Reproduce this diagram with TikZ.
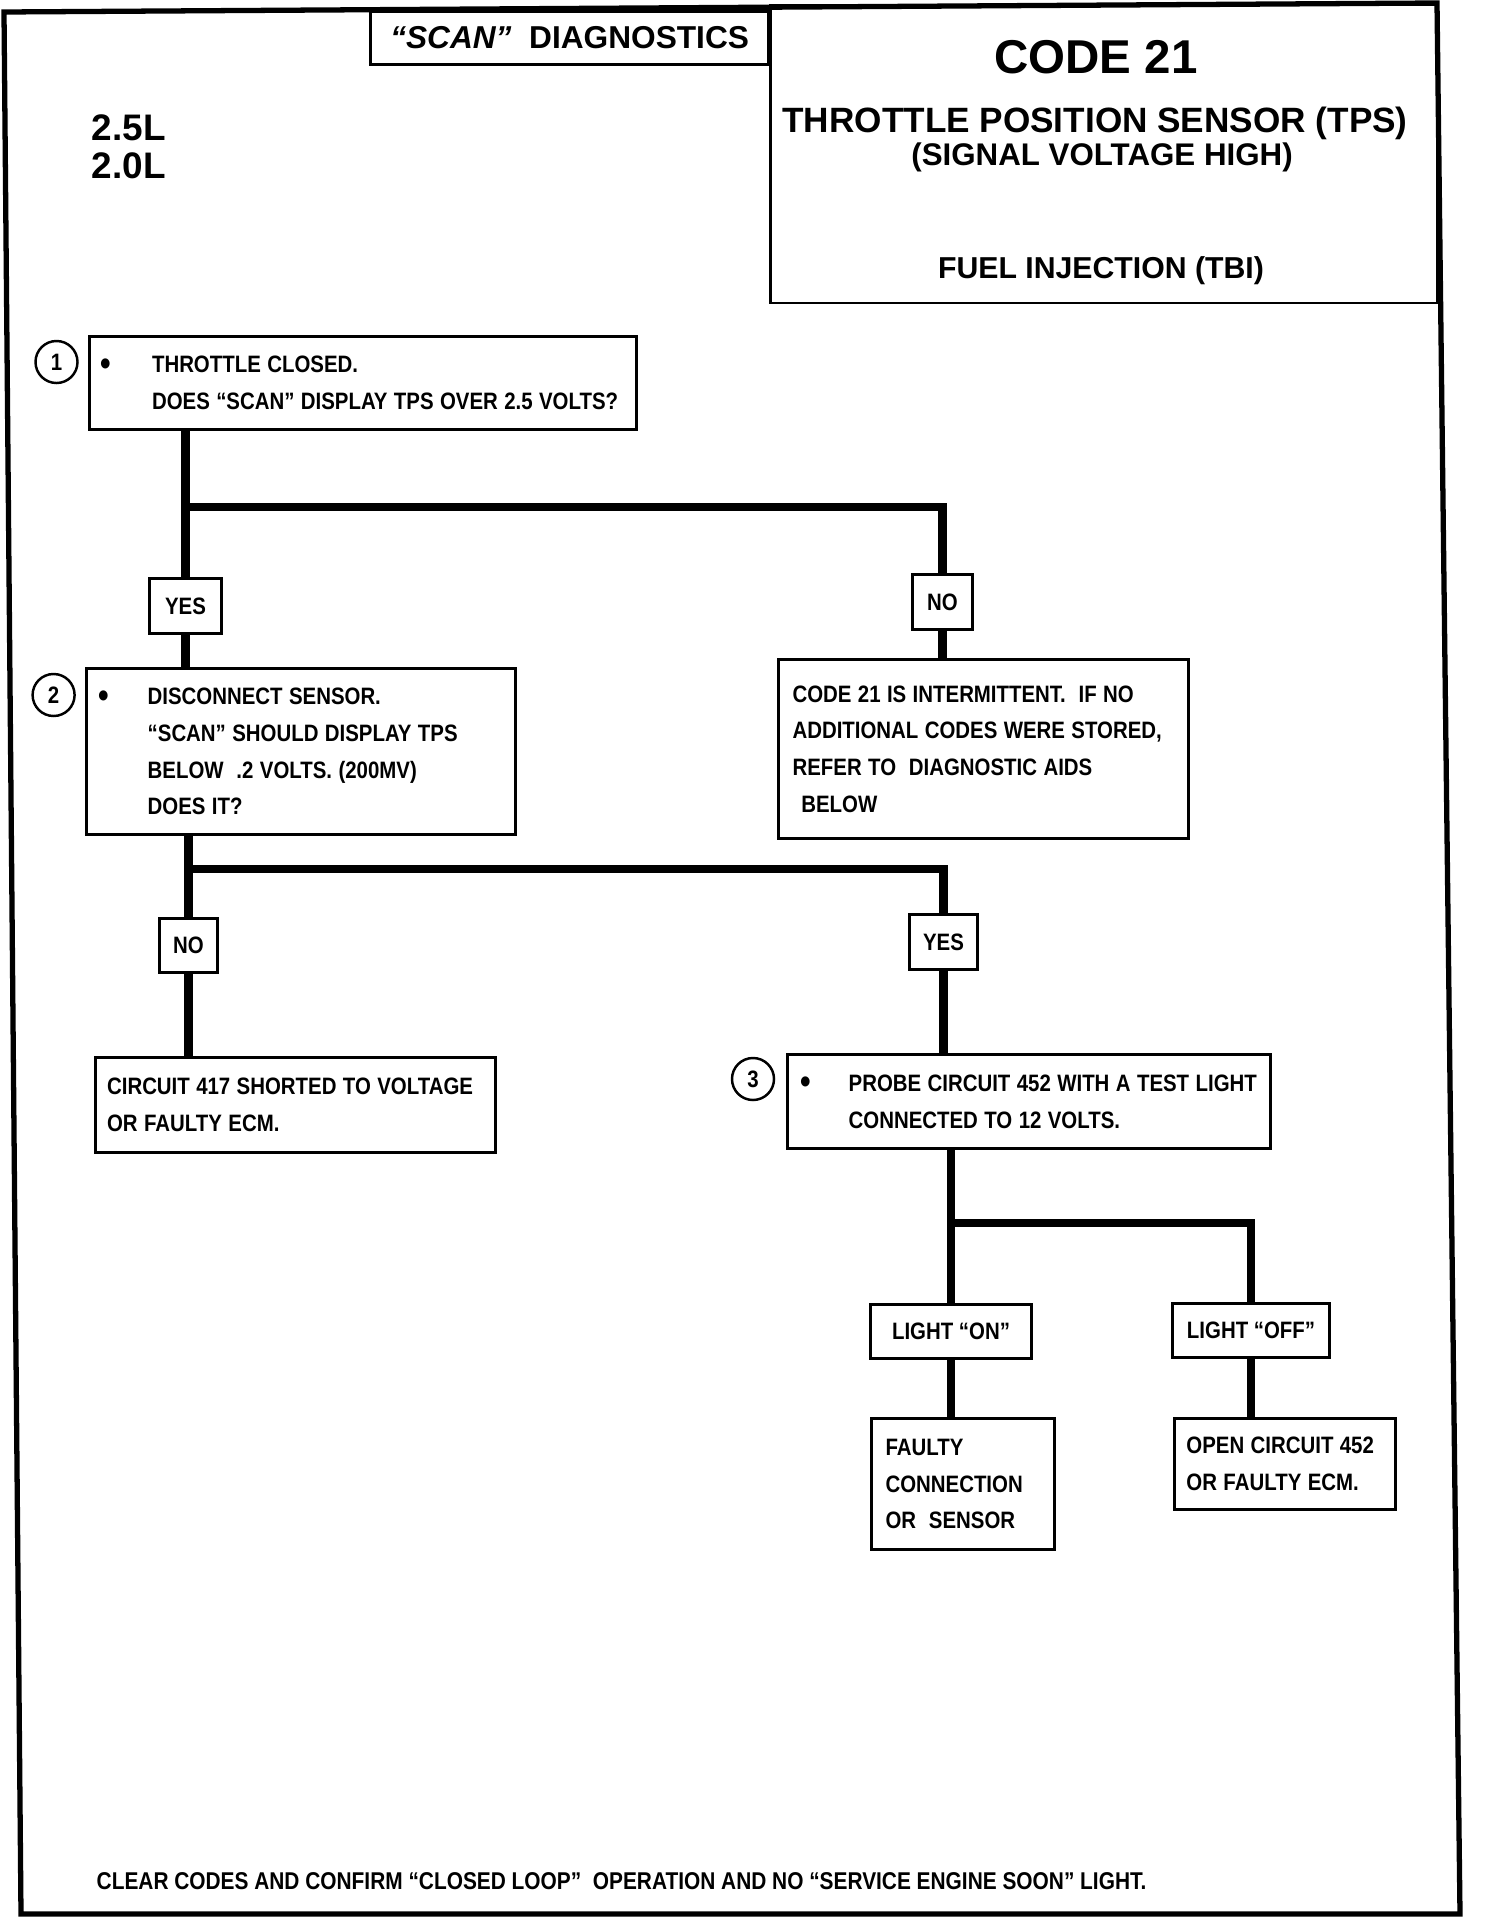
\documentclass[tikz,border=0pt]{standalone}
\usepackage{fontspec}
\setmainfont{Liberation Sans}[FakeStretch=0.86]
\newfontfamily\headfont{Liberation Sans}
\newcommand{\stepdot}[1]{\llap{\raisebox{-0.7pt}{\fontsize{10}{10}\selectfont\textbullet}\hspace{#1}}}

\tikzset{
  stepbox/.style={draw, line width=0.85pt, anchor=north west, inner sep=0pt, align=left},
  indent/.style={execute at begin node={\leftskip=#1\rightskip=-1cm plus 1fil\spaceskip=0.27em\relax}},
  answer/.style={draw, line width=0.85pt, anchor=north west, inner sep=0pt},
  stepnum/.style={draw, circle, line width=0.7pt, minimum size=0.42cm, inner sep=0pt},
  link/.style={line width=2.5pt},
  head/.style={font=\headfont\bfseries\fontsize{#1}{#1}\selectfont, anchor=base, inner sep=0pt},
}

\begin{document}
\begin{tikzpicture}[x=0.01cm, y=-0.01cm]
\tikzstyle{every node}+=[font=\bfseries\fontsize{6.75}{10.45}\selectfont]
\useasboundingbox (0,0) rectangle (1504,1924);
% page frame
\draw [line width=1.5pt] (4,12) -- (1437,3) -- (1460,1914) -- (21,1914) -- cycle;

% heading
\node [answer, minimum width=3.98cm, minimum height=0.53cm, font=\headfont\bfseries\fontsize{9}{9}\selectfont] (scan) at (369,10) {\textit{“SCAN”}\ \ DIAGNOSTICS};
\draw [line width=0.85pt] (770,5) rectangle (1437,303);
\node [head=13.5] (code) at (1096,73) {CODE 21};
\node [head=10] (tps) at (1095,132) {THROTTLE POSITION SENSOR (TPS)};
\node [head=8.9] (signal) at (1102,165) {(SIGNAL VOLTAGE HIGH)};
\node [head=8.6] (tbi) at (1101,278) {FUEL INJECTION (TBI)};
\node [head=10.5, anchor=base west] (eng25) at (91,140) {2.5L};
\node [head=10.5, anchor=base west] (eng20) at (91,178) {2.0L};

% step 1
\node [stepnum] (n1) at (56.5,362) {1};
\node [stepbox, text width=5.47cm, minimum height=0.93cm, indent=17.9pt] (q1) at (87.6,335)
  {\stepdot{11.6pt}THROTTLE CLOSED.\\DOES “SCAN” DISPLAY TPS OVER 2.5 VOLTS?};
\node [answer, minimum width=0.72cm, minimum height=0.55cm] (yes1) at (148,577) {YES};
\node [answer, minimum width=0.60cm, minimum height=0.55cm] (no1) at (911,573) {NO};
\node [stepbox, text width=4.10cm, minimum height=1.79cm, indent=4pt] (intm) at (777,658)
  {CODE 21 IS INTERMITTENT.\ \ IF NO\\ADDITIONAL CODES WERE STORED,\\REFER TO\ \ DIAGNOSTIC AIDS\\\hspace*{2.5pt}BELOW};
\coordinate (j1) at (184,507);
\draw [link] (q1.south -| yes1.north) -- (yes1.north);
\draw [link] (j1) -| (no1.north);
\draw [link] (no1.south) -- (intm.north -| no1.south);

% step 2
\node [stepnum] (n2) at (53.6,695) {2};
\node [stepbox, text width=4.29cm, minimum height=1.66cm, indent=17.4pt] (q2) at (85,667)
  {\stepdot{11pt}DISCONNECT SENSOR.\\“SCAN” SHOULD DISPLAY TPS\\BELOW\ \ .2 VOLTS. (200MV)\\DOES IT?};
\draw [link] (yes1.south) -- (q2.north -| yes1.south);
\node [answer, minimum width=0.58cm, minimum height=0.54cm] (no2) at (158,917) {NO};
\node [answer, minimum width=0.68cm, minimum height=0.55cm] (yes2) at (908,913) {YES};
\node [stepbox, text width=4.00cm, minimum height=0.95cm, indent=3.3pt] (c417) at (94,1056)
  {CIRCUIT 417 SHORTED TO VOLTAGE\\OR FAULTY ECM.};
\coordinate (j2) at (187,869);
\draw [link] (q2.south -| no2.north) -- (no2.north);
\draw [link] (j2) -| (yes2.north);
\draw [link] (no2.south) -- (c417.north -| no2.south);

% step 3
\node [stepnum] (n3) at (753,1079) {3};
\node [stepbox, text width=4.83cm, minimum height=0.94cm, indent=17.4pt] (q3) at (786,1053)
  {\stepdot{10.8pt}PROBE CIRCUIT 452 WITH A TEST LIGHT\\CONNECTED TO 12 VOLTS.};
\draw [link] (yes2.south) -- (q3.north -| yes2.south);
\node [answer, minimum width=1.61cm, minimum height=0.54cm] (lon) at (869,1303) {LIGHT “ON”};
\node [answer, minimum width=1.57cm, minimum height=0.54cm] (loff) at (1171,1302) {LIGHT “OFF”};
\node [stepbox, text width=1.83cm, minimum height=1.31cm, indent=4pt] (faulty) at (870,1417)
  {FAULTY\\CONNECTION\\OR\ \ SENSOR};
\node [stepbox, text width=2.21cm, minimum height=0.91cm, indent=3.4pt] (open452) at (1173,1417)
  {OPEN CIRCUIT 452\\OR FAULTY ECM.};
\coordinate (j3) at (949.5,1223);
\draw [link] (q3.south -| lon.north) -- (lon.north);
\draw [link] (j3) -| (loff.north);
\draw [link] (lon.south) -- (faulty.north -| lon.south);
\draw [link] (loff.south) -- (open452.north -| loff.south);

% footer
\node [anchor=base west, inner sep=0pt, font=\bfseries\fontsize{6.9}{10}\selectfont] (clear) at (96,1889)
  {CLEAR CODES AND CONFIRM “CLOSED LOOP”\ \ OPERATION AND NO “SERVICE ENGINE SOON” LIGHT.};
\end{tikzpicture}
\end{document}
